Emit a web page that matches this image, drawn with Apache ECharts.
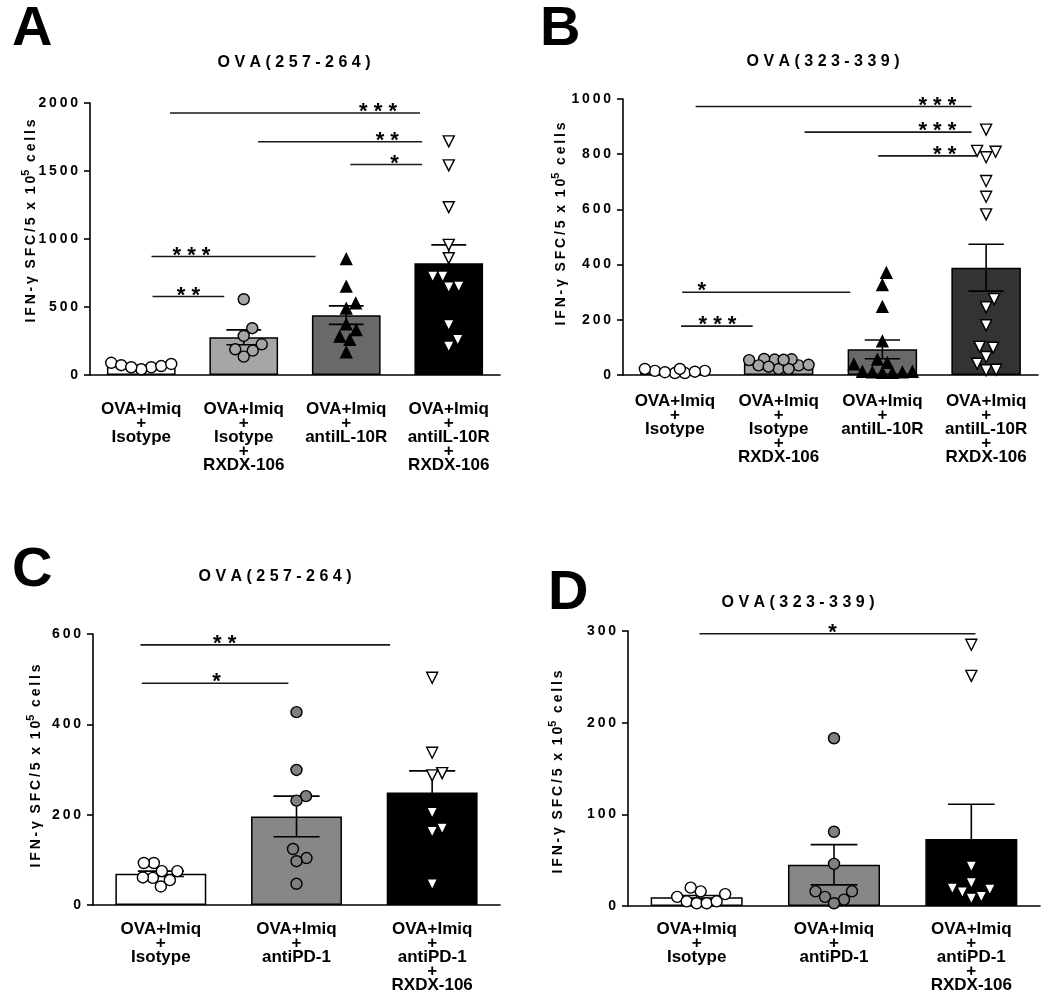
<!DOCTYPE html>
<html>
<head>
<meta charset="utf-8">
<script src="https://cdn.jsdelivr.net/npm/echarts@6/dist/echarts.min.js"></script>
<style>html,body{margin:0;padding:0;background:#fff}#c{width:1050px;height:996px}</style>
</head>
<body>
<div id="c"></div>
<script>
// ---------- DATA ----------
const catsAB = ['OVA+Imiq\n+\nIsotype', 'OVA+Imiq\n+\nIsotype\n+\nRXDX-106', 'OVA+Imiq\n+\nantiIL-10R', 'OVA+Imiq\n+\nantiIL-10R\n+\nRXDX-106'];
const catsCD = ['OVA+Imiq\n+\nIsotype', 'OVA+Imiq\n+\nantiPD-1', 'OVA+Imiq\n+\nantiPD-1\n+\nRXDX-106'];

const titleA = 'OVA(257-264)';
const titleB = 'OVA(323-339)';
const titleC = 'OVA(257-264)';
const titleD = 'OVA(323-339)';
const yName = 'IFN-γ SFC/5 x 10^5 cells';

const aMeans = [66, 277, 440, 822];
const aSem = [6, 55, 68, 135];
const aPts = [
  [90, 72, 57, 42, 57, 66, 81],
  [557, 344, 287, 226, 189, 179, 135],
  [852, 650, 528, 488, 373, 331, 282, 258, 167],
  [1718, 1541, 1234, 957, 859, 724, 724, 645, 650, 368, 258, 209]
];
const aSig = [[0.28, 2.72, 1926, '***', 2.31], [1.14, 2.74, 1715, '**', 2.40], [2.04, 2.74, 1548, '*', 2.47], [0.10, 1.70, 871, '***', 0.49], [0.11, 0.81, 577, '**', 0.46]];

const bMeans = [15, 41, 93, 389];
const bSem = [3, 5, 34, 85];
const bPts = [
  [15, 7, 22, 7, 22, 10, 15, 12],
  [56, 35, 58, 22, 57, 35, 22, 55, 37, 54, 30],
  [370, 326, 247, 122, 56, 44, 39, 10, 8, 12, 10, 8, 12],
  [889, 812, 809, 789, 703, 646, 582, 275, 245, 180, 102, 99, 65, 41, 17, 19]
];
const bSig = [[0.20, 2.86, 973, '***', 2.53], [1.25, 2.86, 880, '***', 2.53], [1.96, 2.91, 794, '**', 2.60], [0.07, 1.69, 300, '*', 0.26], [0.06, 0.75, 177, '***', 0.41]];

const cMeans = [69, 196, 249];
const cSem = [6, 45, 48];
const cPts = [
  [75, 60, 93, 41, 93, 55, 61, 75],
  [427, 299, 241, 231, 124, 104, 97, 47],
  [503, 337, 292, 287, 204, 169, 162, 46]
];
const cSig = [[-0.15, 1.69, 576, '**', 0.47], [-0.14, 0.94, 491, '*', 0.41]];

const dMeans = [9.5, 45, 73];
const dSem = [2, 22, 38];
const dPts = [
  [16, 10, 5, 3, 3, 5, 13, 20],
  [183, 81, 46, 16, 16, 10, 7, 3],
  [285, 251, 43, 19, 15, 8, 10, 18, 25]
];
const dSig = [[0.02, 2.03, 297, '*', 0.99]];

const yMaxes = [2000, 1000, 600, 300];
const yIntervals = [500, 200, 200, 100];

// ---------- STYLE / LAYOUT ----------
const FONT = "'Liberation Sans', Arial, Helvetica, sans-serif";
const WHITE_CIRCLE = {symbol: 'circle', rot: 0, fill: '#ffffff'};
const panels = [
  {letter: 'A', title: titleA, cats: catsAB, means: aMeans, sem: aSem, pts: aPts, sig: aSig,
   grid: {left: 90, top: 103, width: 410, height: 272}, labelMargin: 27,
   barColors: ['#ffffff', '#a6a6a6', '#696969', '#000000'],
   marks: [WHITE_CIRCLE, {symbol: 'circle', rot: 0, fill: '#a6a6a6'}, {symbol: 'triangle', rot: 0, fill: '#000000'}, {symbol: 'triangle', rot: 180, fill: '#ffffff'}],
   letterPos: [12, 2], titlePos: [294, 63], yNamePos: [29, 221]},
  {letter: 'B', title: titleB, cats: catsAB, means: bMeans, sem: bSem, pts: bPts, sig: bSig,
   grid: {left: 623, top: 99, width: 415, height: 276}, labelMargin: 19,
   barColors: ['#ffffff', '#a6a6a6', '#696969', '#333333'],
   marks: [WHITE_CIRCLE, {symbol: 'circle', rot: 0, fill: '#a6a6a6'}, {symbol: 'triangle', rot: 0, fill: '#000000'}, {symbol: 'triangle', rot: 180, fill: '#ffffff'}],
   letterPos: [540, 2], titlePos: [823, 62], yNamePos: [559, 224]},
  {letter: 'C', title: titleC, cats: catsCD, means: cMeans, sem: cSem, pts: cPts, sig: cSig,
   grid: {left: 93, top: 634, width: 407, height: 271}, labelMargin: 17,
   barColors: ['#ffffff', '#878787', '#000000'],
   marks: [WHITE_CIRCLE, {symbol: 'circle', rot: 0, fill: '#808080'}, {symbol: 'triangle', rot: 180, fill: '#ffffff'}],
   letterPos: [12, 543], titlePos: [275, 577], yNamePos: [34, 766]},
  {letter: 'D', title: titleD, cats: catsCD, means: dMeans, sem: dSem, pts: dPts, sig: dSig,
   grid: {left: 628, top: 631, width: 412, height: 275}, labelMargin: 16,
   barColors: ['#ffffff', '#878787', '#000000'],
   marks: [WHITE_CIRCLE, {symbol: 'circle', rot: 0, fill: '#808080'}, {symbol: 'triangle', rot: 180, fill: '#ffffff'}],
   letterPos: [548, 566], titlePos: [798, 603], yNamePos: [556, 772]}
];

const spaced = (s, sep) => s.split('').join(sep);
const SYM = 11;
const BAR_FRAC = 0.67;

// swarm (lowest values placed first so rows of similar values fan outward), limited to the bar's width
function swarm(values, pxPerY, pxPerX, dxMin, dyMin, maxHalf) {
  const order = values.map((v, i) => i).sort((a, b) => values[a] - values[b]);
  const placed = [];
  const off = new Array(values.length).fill(0);
  for (const i of order) {
    const y = values[i] * pxPerY;
    let best = null, bestScore = -1;
    for (let k = 0; k < 2000; k++) {
      const dx = k === 0 ? 0 : (k % 2 ? 1 : -1) * Math.ceil(k / 2) * 0.5;
      if (Math.abs(dx) > maxHalf) break;
      let minD = Infinity;
      for (const p of placed) minD = Math.min(minD, ((p.x - dx) / dxMin) ** 2 + ((p.y - y) / dyMin) ** 2);
      if (minD >= 1) { best = dx; break; }
      if (minD > bestScore + 1e-9) { bestScore = minD; best = dx; }
    }
    placed.push({x: best, y});
    off[i] = best / pxPerX;
  }
  return off;
}

const grids = [], xAxes = [], yAxes = [], series = [], graphics = [];

panels.forEach((p, pi) => {
  const n = p.cats.length;
  grids.push(Object.assign({containLabel: false}, p.grid));
  xAxes.push({
    type: 'category', gridIndex: pi, data: p.cats,
    axisLine: {onZero: false, lineStyle: {color: '#000', width: 1.6}},
    axisTick: {alignWithLabel: true, length: 7, lineStyle: {color: '#000', width: 1.6}},
    axisLabel: {
      margin: p.labelMargin, interval: 0, color: '#000',
      formatter: v => v.split('\n').map(l => l === '+' ? '{p|+}' : '{t|' + l + '}').join('\n'),
      rich: {
        t: {fontFamily: FONT, fontWeight: 'bold', fontSize: 17, lineHeight: 15, color: '#000'},
        p: {fontFamily: FONT, fontWeight: 'bold', fontSize: 17, lineHeight: 13, color: '#000'}
      }
    }
  });
  xAxes.push({type: 'value', gridIndex: pi, min: -0.5, max: n - 0.5, show: false});
  yAxes.push({
    type: 'value', gridIndex: pi, min: 0, max: yMaxes[pi], interval: yIntervals[pi],
    splitLine: {show: false},
    axisLine: {show: true, onZero: false, lineStyle: {color: '#000', width: 1.6}},
    axisTick: {show: true, length: 6, lineStyle: {color: '#000', width: 1.6}},
    axisLabel: {margin: 12, color: '#000', fontFamily: FONT, fontWeight: 'bold', fontSize: 14,
      formatter: v => spaced(String(v), '\u2009')}
  });
  const cx = 2 * pi, vx = 2 * pi + 1;
  series.push({
    type: 'bar', xAxisIndex: cx, yAxisIndex: pi, barWidth: (BAR_FRAC * 100) + '%', z: 2,
    data: p.means.map((m, i) => ({value: m, itemStyle: {color: p.barColors[i]}})),
    itemStyle: {borderColor: '#000', borderWidth: 1.5}
  });
  series.push({
    type: 'custom', xAxisIndex: cx, yAxisIndex: pi, z: 3,
    data: p.means.map((m, i) => [i, m, p.sem[i]]),
    renderItem: (params, api) => {
      const i = api.value(0), m = api.value(1), s = api.value(2);
      const hi = api.coord([i, m + s]), lo = api.coord([i, Math.max(0, m - s)]);
      const hw = api.size([1, 0])[0] * 0.17;
      const st = {stroke: '#000', lineWidth: 1.6};
      return {type: 'group', children: [
        {type: 'line', shape: {x1: hi[0], y1: hi[1], x2: lo[0], y2: lo[1]}, style: st},
        {type: 'line', shape: {x1: hi[0] - hw, y1: hi[1], x2: hi[0] + hw, y2: hi[1]}, style: st},
        {type: 'line', shape: {x1: lo[0] - hw, y1: lo[1], x2: lo[0] + hw, y2: lo[1]}, style: st}
      ]};
    }
  });
  const pxPerX = p.grid.width / n, pxPerY = p.grid.height / yMaxes[pi];
  const maxHalf = pxPerX * BAR_FRAC * 0.44;
  p.pts.forEach((vals, gi) => {
    const off = swarm(vals, pxPerY, pxPerX, 10, 13, maxHalf);
    const mk = p.marks[gi];
    series.push({
      type: 'scatter', xAxisIndex: vx, yAxisIndex: pi, z: 4,
      symbol: mk.symbol, symbolSize: SYM, symbolRotate: mk.rot,
      itemStyle: {color: mk.fill, borderColor: '#000', borderWidth: 1.4, opacity: 1},
      data: vals.map((v, k) => [gi + off[k], v]),
      silent: true
    });
  });
  series.push({
    type: 'custom', xAxisIndex: vx, yAxisIndex: pi, z: 5, clip: false,
    data: p.sig.map(s => [s[0], s[2]]),
    renderItem: (params, api) => {
      const s = p.sig[params.dataIndex];
      const a = api.coord([s[0], s[2]]), b = api.coord([s[1], s[2]]), c = api.coord([s[4], s[2]]);
      return {type: 'group', children: [
        {type: 'line', shape: {x1: a[0], y1: a[1], x2: b[0], y2: b[1]}, style: {stroke: '#1a1a1a', lineWidth: 1.6}},
        {type: 'text', x: c[0], y: c[1] - 1, style: {text: spaced(s[3], ' '), fill: '#000',
          font: 'bold 22px ' + FONT, align: 'center', verticalAlign: 'middle'}}
      ]};
    }
  });
  graphics.push({type: 'text', x: p.letterPos[0], y: p.letterPos[1],
    style: {text: p.letter, fill: '#000', font: 'bold 56px ' + FONT, align: 'left', verticalAlign: 'top'}});
  graphics.push({type: 'text', x: p.titlePos[0], y: p.titlePos[1],
    style: {text: spaced(p.title, ' '), fill: '#000', font: 'bold 16px ' + FONT, align: 'center', verticalAlign: 'middle'}});
  const [pre, post] = yName.split('^');
  const base = pre.slice(0, -2).trim();
  const supDigit = post.split(' ')[0];
  const tail = post.split(' ').slice(1).join(' ');
  const yText = '{t|' + base.split(' ').map(w => spaced(w, '\u2009')).join('  ') + '  ' + spaced('10', '\u2009') +
    '}{s|' + supDigit + '}{t|  ' + spaced(tail, '\u2009') + '}';
  graphics.push({type: 'text', x: p.yNamePos[0], y: p.yNamePos[1], rotation: Math.PI / 2,
    style: {text: yText, align: 'center', verticalAlign: 'middle',
      rich: {
        t: {fontFamily: FONT, fontWeight: 'bold', fontSize: 14, fill: '#000', lineHeight: 18, verticalAlign: 'bottom'},
        s: {fontFamily: FONT, fontWeight: 'bold', fontSize: 11, fill: '#000', lineHeight: 18, verticalAlign: 'top'}
      }}});
});

const chart = echarts.init(document.getElementById('c'), null, {renderer: 'canvas'});
chart.setOption({
  animation: false,
  backgroundColor: '#ffffff',
  grid: grids, xAxis: xAxes, yAxis: yAxes, series: series, graphic: graphics
});
</script>
</body>
</html>
